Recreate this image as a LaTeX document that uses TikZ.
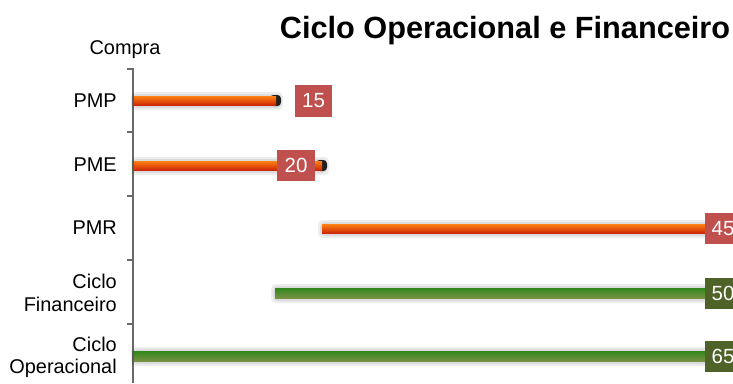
\documentclass[tikz,border=0pt]{standalone}
\usepackage{fontspec}
\setmainfont{Liberation Sans}
\usetikzlibrary{positioning}

\definecolor{barorange}{RGB}{255,130,20}
\definecolor{barred}{RGB}{205,40,5}
\definecolor{bargreen}{RGB}{50,135,28}
\definecolor{barolive}{RGB}{118,146,66}
\definecolor{tagred}{RGB}{192,80,77}
\definecolor{taggreen}{RGB}{79,98,40}
\definecolor{axisgray}{RGB}{105,105,105}

\begin{document}
\begin{tikzpicture}[
  x=0.03cm, y=-0.03cm,
  cat/.style={align=right, anchor=east, inner sep=0pt, font=\fontsize{17}{19}\selectfont},
  tag/.style={text=white, inner sep=0pt, minimum width=31.6pt, minimum height=26.5pt,
    font=\fontsize{17.5}{19}\selectfont},
  orangebar/.style={top color=barorange, bottom color=barred},
  greenbar/.style={top color=bargreen, bottom color=barolive},
  halo/.style={fill=black, opacity=.07, rounded corners=4pt},
  tip/.style={fill=black, opacity=.85, rounded corners=3pt},
  axis/.style={draw=axisgray, line width=1.1pt}
]
\useasboundingbox (0,0) rectangle (733,383);
\clip (0,0) rectangle (733,383);

% heading and axis captions
\node[font=\bfseries\fontsize{26.2}{30}\selectfont] (title) at (505,31) {Ciclo Operacional e Financeiro};
\node[inner sep=0pt, font=\fontsize{17}{19}\selectfont] (compra) at (125,50) {Compra};

\node[cat] (pmp) at (117,101) {PMP};
\node[cat] (pme) at (117,165) {PME};
\node[cat] (pmr) at (117,228) {PMR};
\node[cat] (cfin) at (117,293) {Ciclo\\Financeiro};
\node[cat] (cop) at (117,357) {Ciclo\\Operacional};

% category axis with ticks
\draw[axis] (127,69) -- (133,69) -- (133,383);
\draw[axis] (127,132) -- (133,132);
\draw[axis] (127,196) -- (133,196);
\draw[axis] (127,260) -- (133,260);
\draw[axis] (127,324) -- (133,324);

% bars, each with a soft shadow
\fill[halo] (131,92) rectangle (283,110);
\fill[halo] (132,94) rectangle (281,108);
\fill[tip] (270,95) rectangle (281,106);
\shade[orangebar] (134,96) rectangle (276,105);

\fill[halo] (131,157) rectangle (329,175);
\fill[halo] (132,159) rectangle (327,173);
\fill[tip] (316,160) rectangle (327,171);
\shade[orangebar] (134,161) rectangle (322,170);

\fill[halo] (318,220) rectangle (740,238);
\fill[halo] (320,222) rectangle (740,236);
\shade[orangebar] (322,224) rectangle (740,233);

\fill[halo] (271,284) rectangle (740,303);
\fill[halo] (273,286) rectangle (740,301);
\shade[greenbar] (275,288) rectangle (740,298);

\fill[halo] (131,347) rectangle (740,366);
\fill[halo] (132,349) rectangle (740,364);
\shade[greenbar] (134,351) rectangle (740,361);

% value tags
\node[tag, fill=tagred] (t15) at (313.5,101) {15};
\node[tag, fill=tagred] (t20) at (296,165.5) {20};
\node[tag, fill=tagred] (t45) at (723,228.5) {45};
\node[tag, fill=taggreen] (t50) at (723,293.5) {50};
\node[tag, fill=taggreen] (t65) at (723,356.5) {65};
\end{tikzpicture}
\end{document}
